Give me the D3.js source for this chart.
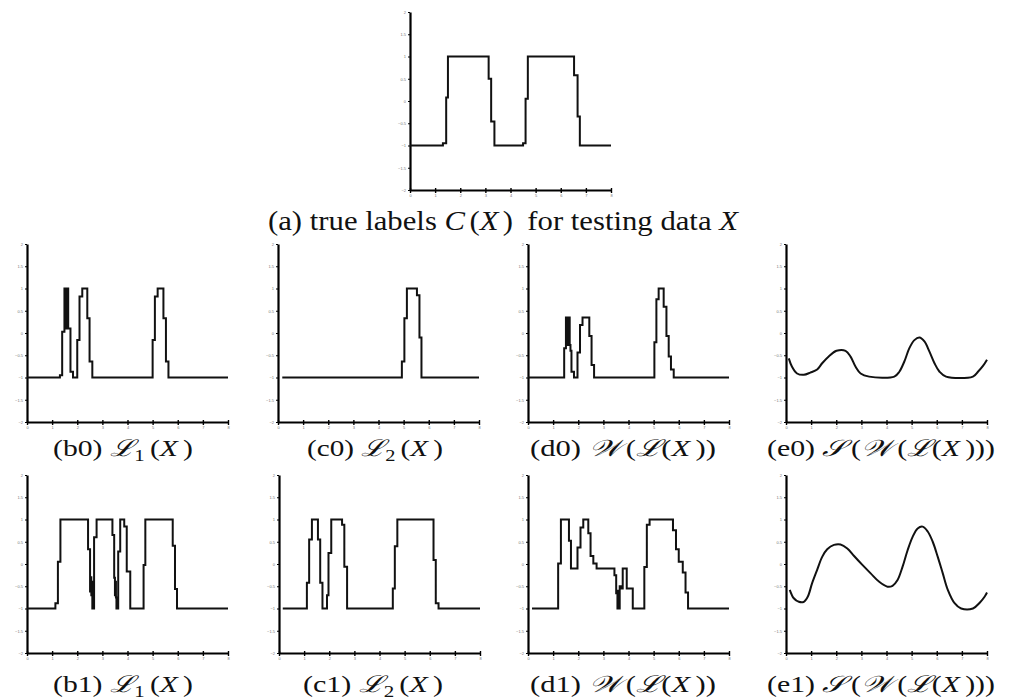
<!DOCTYPE html>
<html>
<head>
<meta charset="utf-8">
<script src="https://cdn.jsdelivr.net/npm/d3@7"></script>
<style>
body { margin: 0; background: #fff; }
.cap { font-family: "Liberation Serif", "Times New Roman", serif; fill: #111; }
.tick text { font-family: "Liberation Sans", sans-serif; font-size: 4px; fill: #777; }
</style>
</head>
<body>
<script>
var width = 1009,
    height = 699;
var pw = 201, ph = 178;

var xTicks = [0, 1, 2, 3, 4, 5, 6, 7, 8];
var yTicks = [-2, -1.5, -1, -0.5, 0, 0.5, 1, 1.5, 2];

// (a) true labels
var aX = [0, 1.31, 1.44, 1.51, 3.13, 3.23, 3.36, 4.5, 4.6, 4.69, 6.53, 6.67, 6.76, 8];
var aY = [-1, -0.95, 0.08, 1, 0.5, -0.46, -1, -0.95, 0.05, 1, 0.58, -0.35, -1, -1];

// row 0
var b0X = [0, 1.31, 1.4, 1.49, 1.52, 1.55, 1.58, 1.61, 1.64, 1.67, 1.73, 1.83, 2.0, 2.09, 2.2, 2.4, 2.49, 2.6, 5.0, 5.09, 5.2, 5.43, 5.53, 5.63, 8];
var b0Y = [-1, -0.95, 0.03, 1, 0.1, 1, 0.1, 1, 0.1, 0.1, -0.87, -1, -0.16, 0.82, 1, 0.33, -0.64, -1, -0.16, 0.82, 1, 0.33, -0.64, -1, -1];
var c0X = [0.17, 4.93, 5.03, 5.13, 5.53, 5.63, 5.71, 8];
var c0Y = [-1, -0.64, 0.33, 1, 0.85, -0.1, -1, -1];
var d0X = [0, 1.44, 1.51, 1.54, 1.57, 1.6, 1.63, 1.66, 1.69, 1.73, 1.83, 1.97, 2.07, 2.17, 2.44, 2.53, 2.63, 5.03, 5.11, 5.2, 5.4, 5.51, 5.6, 5.69, 5.8, 8];
var d0Y = [-1, -0.34, 0.35, -0.27, 0.35, -0.27, 0.35, -0.27, -0.4, -0.87, -1, -0.44, 0.18, 0.35, -0.07, -0.72, -1, -0.21, 0.76, 1, 0.59, -0.07, -0.53, -0.82, -1, -1];
var e0X = [0.11, 0.24, 0.44, 0.71, 0.97, 1.24, 1.44, 1.71, 2.01, 2.37, 2.57, 2.77, 2.97, 3.31, 4.31, 4.51, 4.71, 4.91, 5.11, 5.31, 5.51, 5.71, 5.91, 6.11, 6.37, 7.44, 7.64, 7.84, 8.0];
var e0Y = [-0.57, -0.76, -0.91, -0.94, -0.89, -0.82, -0.68, -0.52, -0.4, -0.4, -0.53, -0.76, -0.91, -0.98, -0.98, -0.87, -0.64, -0.34, -0.16, -0.1, -0.19, -0.42, -0.68, -0.87, -0.98, -0.98, -0.87, -0.74, -0.6];

// row 1
var b1X = [0, 1.13, 1.23, 1.33, 2.43, 2.51, 2.54, 2.56, 2.58, 2.6, 2.67, 2.77, 3.4, 3.47, 3.5, 3.52, 3.54, 3.56, 3.63, 3.71, 3.87, 3.97, 4.11, 4.64, 4.71, 5.8, 5.89, 5.97, 8];
var b1Y = [-1, -0.88, 0.05, 1, 0.33, -0.62, -0.3, -0.7, -0.4, -1, 0.6, 1, 0.65, -0.31, -0.7, -0.4, -0.75, -1, 0.28, 1, 0.84, -0.17, -1, -0.02, 1, 0.41, -0.56, -1, -1];
var c1X = [0.15, 1.11, 1.2, 1.31, 1.55, 1.64, 1.73, 1.91, 1.97, 2.08, 2.51, 2.6, 2.71, 4.53, 4.61, 4.71, 6.15, 6.24, 6.35, 8];
var c1Y = [-1, -0.42, 0.55, 1, 0.55, -0.42, -1, -0.7, 0.25, 1, 0.88, -0.06, -1, -0.55, 0.4, 1, 0.09, -0.88, -1, -1];
var d1X = [0.16, 1.2, 1.31, 1.63, 1.71, 1.97, 2.09, 2.2, 2.4, 2.49, 2.6, 2.73, 3.44, 3.51, 3.56, 3.59, 3.62, 3.65, 3.69, 3.77, 3.93, 4.17, 4.63, 4.73, 4.84, 5.77, 5.89, 6.0, 6.16, 6.27, 6.37, 8];
var d1Y = [-1, 0.01, 1, 0.52, -0.1, 0.37, 0.82, 1, 0.69, 0.18, 0.01, -0.1, -0.25, -0.66, -1, -0.6, -1, -0.5, -0.55, -0.1, -0.55, -1, -0.07, 0.88, 1, 0.76, 0.33, 0.05, -0.19, -0.64, -1, -1];
var e1X = [0.15, 0.31, 0.51, 0.71, 0.87, 1.04, 1.24, 1.44, 1.64, 1.91, 2.17, 2.44, 2.71, 3.04, 3.37, 3.71, 4.04, 4.24, 4.44, 4.64, 4.84, 5.04, 5.24, 5.44, 5.64, 5.84, 6.04, 6.24, 6.44, 6.71, 6.97, 7.44, 7.71, 7.91, 8.0];
var e1Y = [-0.58, -0.77, -0.85, -0.85, -0.73, -0.43, -0.13, 0.16, 0.33, 0.43, 0.44, 0.35, 0.18, -0.02, -0.21, -0.4, -0.51, -0.49, -0.36, -0.06, 0.31, 0.61, 0.8, 0.84, 0.73, 0.5, 0.16, -0.21, -0.58, -0.88, -1, -1, -0.87, -0.73, -0.64];

var svg = d3.select("body").append("svg")
    .attr("width", width)
    .attr("height", height);

var x = d3.scaleLinear().domain([0, 8]).range([0, pw]);
var y = d3.scaleLinear().domain([-2, 2]).range([ph, 0]);

var panels = [
    {xs: aX,  ys: aY,  left: 410, top: 12,  smooth: false},
    {xs: b0X, ys: b0Y, left: 27,  top: 244, smooth: false},
    {xs: c0X, ys: c0Y, left: 278, top: 244, smooth: false},
    {xs: d0X, ys: d0Y, left: 528, top: 244, smooth: false},
    {xs: e0X, ys: e0Y, left: 786, top: 244, smooth: true},
    {xs: b1X, ys: b1Y, left: 27,  top: 475, smooth: false},
    {xs: c1X, ys: c1Y, left: 279, top: 475, smooth: false},
    {xs: d1X, ys: d1Y, left: 528, top: 475, smooth: false},
    {xs: e1X, ys: e1Y, left: 786, top: 475, smooth: true}
];

panels.forEach(function(p){
    var g = svg.append("g").attr("transform", "translate(" + p.left + "," + p.top + ")");

    g.append("g")
        .attr("transform", "translate(0," + ph + ")")
        .call(d3.axisBottom(x).tickValues(xTicks).tickSizeInner(3).tickSizeOuter(0).tickPadding(1))
        .call(function(a){ a.select(".domain").attr("stroke-width", 2.2); a.selectAll("line").attr("stroke-width", 1.4).attr("y1", -2); });

    g.append("g")
        .call(d3.axisLeft(y).tickValues(yTicks).tickFormat(d3.format("")).tickSizeInner(2).tickSizeOuter(0).tickPadding(2))
        .call(function(a){ a.select(".domain").attr("stroke-width", 2.2); a.selectAll("line").attr("stroke-width", 1); });

    var data = p.xs.map(function(d, i){ return {x: d, y: p.ys[i]}; });
    var line = d3.line()
        .x(d => x(d.x))
        .y(d => y(d.y))
        .curve(p.smooth ? d3.curveCatmullRom : d3.curveStepAfter);

    g.append("path")
        .datum(data)
        .attr("d", line)
        .attr("fill", "none")
        .attr("stroke", "#111")
        .attr("stroke-width", 2);
});

// captions: [text, style, dx]  style: n normal, i italic, s subscript
var captions = [
    {x: 268, y: 230, w: 470, size: 28, parts: [["(a) true labels ", "n"], ["C", "i"], ["(", "n", 4], ["X", "i"], [")", "n", 4], [" for testing data ", "n", 6], ["X", "i"]]},
    {x: 53,  y: 456, w: 140, size: 23, parts: [["(b0) ", "n"], ["\u2112", "i"], ["1", "s"], ["(", "n", 4], ["X", "i"], [")", "n", 4]]},
    {x: 307, y: 456, w: 136, size: 23, parts: [["(c0) ", "n"], ["\u2112", "i"], ["2", "s"], ["(", "n", 4], ["X", "i"], [")", "n", 4]]},
    {x: 530, y: 456, w: 186, size: 23, parts: [["(d0) ", "n"], ["\uD835\uDCB2", "i"], ["(", "n", 4], ["\u2112", "i"], ["(", "n"], ["X", "i"], ["))", "n", 4]]},
    {x: 767, y: 456, w: 228, size: 23, parts: [["(e0) ", "n"], ["\uD835\uDCAE", "i"], ["(", "n", 4], ["\uD835\uDCB2", "i"], ["(", "n", 4], ["\u2112", "i"], ["(", "n"], ["X", "i"], [")))", "n", 4]]},
    {x: 53,  y: 692, w: 140, size: 23, parts: [["(b1) ", "n"], ["\u2112", "i"], ["1", "s"], ["(", "n", 4], ["X", "i"], [")", "n", 4]]},
    {x: 303, y: 692, w: 140, size: 23, parts: [["(c1) ", "n"], ["\u2112", "i"], ["2", "s"], ["(", "n", 4], ["X", "i"], [")", "n", 4]]},
    {x: 530, y: 692, w: 186, size: 23, parts: [["(d1) ", "n"], ["\uD835\uDCB2", "i"], ["(", "n", 4], ["\u2112", "i"], ["(", "n"], ["X", "i"], ["))", "n", 4]]},
    {x: 767, y: 692, w: 228, size: 23, parts: [["(e1) ", "n"], ["\uD835\uDCAE", "i"], ["(", "n", 4], ["\uD835\uDCB2", "i"], ["(", "n", 4], ["\u2112", "i"], ["(", "n"], ["X", "i"], [")))", "n", 4]]}
];

captions.forEach(function(c){
    var t = svg.append("text").attr("class", "cap")
        .attr("x", c.x).attr("y", c.y)
        .style("font-size", c.size + "px")
        .attr("textLength", c.w)
        .attr("lengthAdjust", "spacingAndGlyphs")
        .attr("xml:space", "preserve");
    var prevSub = false;
    c.parts.forEach(function(pt){
        var s = t.append("tspan").text(pt[0]);
        if (pt[1] == "i") s.style("font-style", "italic");
        if (pt[2]) s.attr("dx", pt[2]);
        if (pt[1] == "s") { s.attr("dy", 5).style("font-size", (c.size * 0.7) + "px"); prevSub = true; }
        else if (prevSub) { s.attr("dy", -5); prevSub = false; }
    });
});
</script>
</body>
</html>
